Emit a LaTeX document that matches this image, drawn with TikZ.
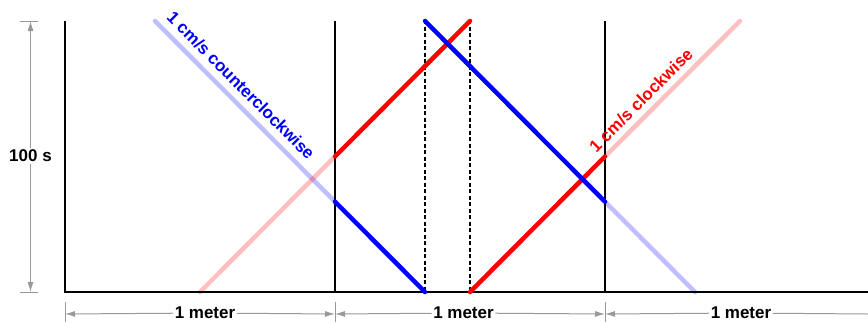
\documentclass[tikz,border=0pt]{standalone}
\usepackage{fontspec}
\setmainfont{Liberation Sans}
\usetikzlibrary{arrows.meta}
\begin{document}
\begin{tikzpicture}[x=1pt,y=-1pt,
  axisline/.style={black, line width=1.4pt},
  dashline/.style={black, line width=2.2pt, dash pattern=on 4pt off 2.5pt},
  strong/.style={line width=4.5pt, line cap=round},
  faint/.style={line width=4.5pt, line cap=round, draw opacity=0.25},
  dim/.style={black!40, line width=1pt},
  dimtip/.style={-{Latex[length=10pt,width=6pt]}},
  lbl/.style={font=\fontsize{17}{20}\selectfont\bfseries, inner sep=1.5pt},
  dimlbl/.style={lbl, fill=white, text=black},
]
\useasboundingbox (0,0) rectangle (868,322);
% frame coordinates
\coordinate (L0) at (65,21);
\coordinate (L1) at (65,292);
\coordinate (M0) at (335,21);
\coordinate (M1) at (335,292);
\coordinate (R0) at (605,21);
\coordinate (R1) at (605,292);
\coordinate (E1) at (868,292);
% dashed markers
\coordinate (Da) at (425,20);
\coordinate (Db) at (425,292);
\coordinate (Dc) at (470,20);
\coordinate (Dd) at (470,292);
% faint lines
\coordinate (fb0) at (155,21);
\coordinate (fb1) at (335,201.7);
\coordinate (fb2) at (605,201.7);
\coordinate (fb3) at (695,292);
\coordinate (fr0) at (200,292);
\coordinate (fr1) at (335,156.5);
\coordinate (fr2) at (605,156.5);
\coordinate (fr3) at (740,21);
\draw[faint, blue] (fb0) -- (fb1);
\draw[faint, blue] (fb2) -- (fb3);
\draw[faint, red] (fr0) -- (fr1);
\draw[faint, red] (fr2) -- (fr3);
% axes
\draw[axisline] (L0) -- (L1) -- (E1);
\draw[axisline] (M0) -- (M1);
\draw[axisline] (R0) -- (R1);
\draw[dashline] (Da) -- (Db);
\draw[dashline] (Dc) -- (Dd);
% strong lines
\coordinate (sr0) at (470,292);
\coordinate (sr3) at (470,21);
\coordinate (sb0) at (425,21);
\coordinate (sb3) at (425,292);
\draw[strong, red] (sr0) -- (fr2);
\draw[strong, red] (fr1) -- (sr3);
\draw[strong, blue] (sb0) -- (fb2);
\draw[strong, blue] (fb1) -- (sb3);
% labels
\node[lbl, text=blue, rotate=-45] (ccw) at (241,85.5) {1 cm/s counterclockwise};
\node[lbl, text=red, rotate=45] (cw) at (641,100) {1 cm/s clockwise};
% vertical dimension
\coordinate (vt1) at (20,21);
\coordinate (vt2) at (38,21);
\coordinate (vb1) at (20,292);
\coordinate (vb2) at (38,292);
\coordinate (vt) at (30.5,21);
\coordinate (vb) at (30.5,292);
\draw[dim] (vt1) -- (vt2);
\draw[dim] (vb1) -- (vb2);
\node[dimlbl] (t100) at (30.5,156) {100 s};
\draw[dim, dimtip] (t100) -- (vt);
\draw[dim, dimtip] (t100) -- (vb);
% horizontal dimensions
\coordinate (h0t) at (65,302);
\coordinate (h0b) at (65,322);
\coordinate (h1t) at (335,302);
\coordinate (h1b) at (335,322);
\coordinate (h2t) at (605,302);
\coordinate (h2b) at (605,322);
\draw[dim] (h0t) -- (h0b);
\draw[dim] (h1t) -- (h1b);
\draw[dim] (h2t) -- (h2b);
\coordinate (ha) at (65,314);
\coordinate (hb) at (335,314);
\coordinate (hc) at (605,314);
\coordinate (hd) at (868,314);
\node[dimlbl] (m1) at (205,313) {1 meter};
\node[dimlbl] (m2) at (463.5,313) {1 meter};
\node[dimlbl] (m3) at (741,313) {1 meter};
\draw[dim, dimtip] (m1) -- (ha);
\draw[dim, dimtip] (m1) -- (hb);
\draw[dim, dimtip] (m2) -- (hb);
\draw[dim, dimtip] (m2) -- (hc);
\draw[dim, dimtip] (m3) -- (hc);
\draw[dim] (m3) -- (hd);
\end{tikzpicture}
\end{document}
